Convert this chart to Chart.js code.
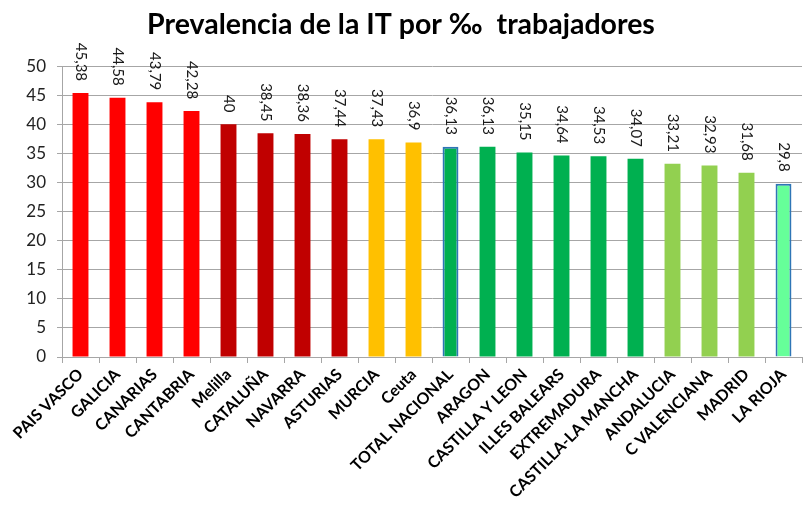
<!DOCTYPE html>
<html>
<head>
<meta charset="utf-8">
<script src="https://cdn.jsdelivr.net/npm/chart.js@4"></script>
<style>
html,body{margin:0;padding:0;background:#fff;}
#wrap{width:806px;height:520px;}
</style>
</head>
<body>
<div id="wrap"><canvas id="c" width="806" height="520"></canvas></div>
<script>
const categories = ["PAIS VASCO","GALICIA","CANARIAS","CANTABRIA","Melilla","CATALUÑA","NAVARRA","ASTURIAS","MURCIA","Ceuta","TOTAL NACIONAL","ARAGON","CASTILLA Y LEON","ILLES BALEARS","EXTREMADURA","CASTILLA-LA MANCHA","ANDALUCIA","C VALENCIANA","MADRID","LA RIOJA"];
const values = [45.38,44.58,43.79,42.28,40,38.45,38.36,37.44,37.43,36.9,36.13,36.13,35.15,34.64,34.53,34.07,33.21,32.93,31.68,29.8];
const barColors = ["#FF0000","#FF0000","#FF0000","#FF0000","#C00000","#C00000","#C00000","#C00000","#FFC000","#FFC000","#00B050","#00B050","#00B050","#00B050","#00B050","#00B050","#92D050","#92D050","#92D050","#66FF99"];
const borderWidths = [0,0,0,0,0,0,0,0,0,0,2,0,0,0,0,0,0,0,0,2];
const titleText = "Prevalencia de la IT por \u2030  trabajadores";

const labelPlugin = {
  id: 'rotLabels',
  afterDatasetsDraw(chart) {
    const ctx = chart.ctx;
    const meta = chart.getDatasetMeta(0);
    ctx.save();
    ctx.font = '15px Lato, "Liberation Sans", sans-serif';
    ctx.fillStyle = '#1a1a1a';
    meta.data.forEach((bar, i) => {
      const txt = String(values[i]).replace('.', ',');
      ctx.save();
      ctx.translate(bar.x, bar.y - 12);
      ctx.rotate(Math.PI / 2);
      ctx.textAlign = 'right';
      ctx.textBaseline = 'middle';
      ctx.fillText(txt, 0, 0);
      ctx.restore();
    });
    ctx.restore();
  }
};

new Chart(document.getElementById('c'), {
  type: 'bar',
  data: {
    labels: categories,
    datasets: [{
      data: values,
      backgroundColor: barColors,
      borderColor: '#2E75B6',
      borderWidth: borderWidths,
      borderSkipped: 'bottom',
      barPercentage: 0.86,
      categoryPercentage: 0.5
    }]
  },
  options: {
    responsive: false,
    animation: false,
    devicePixelRatio: 1,
    layout: { padding: { left: 0, right: 4, top: 0, bottom: 0 } },
    plugins: {
      legend: { display: false },
      tooltip: { enabled: false },
      title: {
        display: true,
        text: titleText,
        color: '#000',
        font: { family: 'Lato, "Open Sans", sans-serif', size: 28.5, weight: 'bold' },
        padding: { top: 8, bottom: 24 }
      }
    },
    scales: {
      x: {
        afterFit(scale) { scale.height = 163; },
        grid: { display: true, drawOnChartArea: false, drawTicks: true, tickLength: 6, offset: true, color: '#A6A6A6', lineWidth: 1 },
        border: { display: true, color: '#A6A6A6', width: 1 },
        ticks: {
          autoSkip: false,
          maxRotation: 45,
          minRotation: 45,
          color: '#000',
          padding: 2,
          font: { family: 'Lato, "Open Sans", sans-serif', size: 16, weight: 'bold' }
        }
      },
      y: {
        min: 0,
        max: 50,
        afterFit(scale) { scale.width = 62; },
        grid: { color: '#A6A6A6', lineWidth: 1, drawTicks: true, tickLength: 5 },
        border: { display: true, color: '#A6A6A6', width: 1 },
        ticks: {
          stepSize: 5,
          color: '#222',
          padding: 11,
          font: { family: 'Lato, "Open Sans", sans-serif', size: 17 }
        }
      }
    }
  },
  plugins: [labelPlugin]
});
</script>
</body>
</html>
